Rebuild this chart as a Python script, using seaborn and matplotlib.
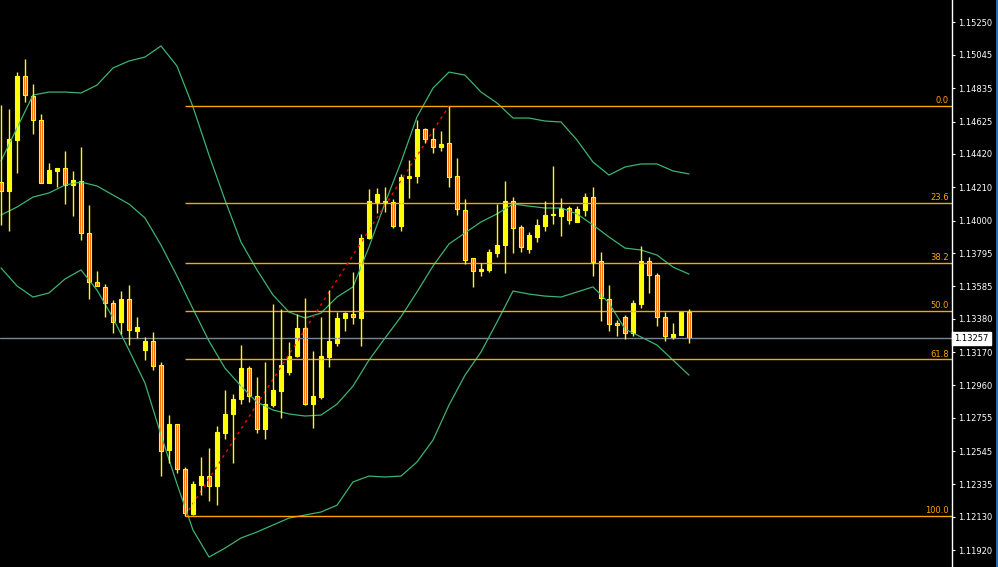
import numpy as np
import pandas as pd
import seaborn as sns
import matplotlib.pyplot as plt

# velas OHLC, de izquierda a derecha
open_ = [1.14245, 1.14188, 1.14510, 1.14912, 1.14784, 1.14632, 1.14239, 1.14314, 1.14330, 1.14222,
         1.14247, 1.13919, 1.13610, 1.13578, 1.13477, 1.13361, 1.13504, 1.13305, 1.13182, 1.13239,
         1.13088, 1.12551, 1.12715, 1.12433, 1.12145, 1.12331, 1.12387, 1.12325, 1.12661, 1.12779,
         1.12871, 1.13068, 1.12890, 1.12684, 1.12835, 1.12921, 1.13045, 1.13145, 1.13320, 1.12841,
         1.12888, 1.13141, 1.13230, 1.13386, 1.13408, 1.13386, 1.13888, 1.14119, 1.14123, 1.14115,
         1.13967, 1.14270, 1.14279, 1.14578, 1.14515, 1.14466, 1.14490, 1.14281, 1.14067, 1.13761,
         1.13683, 1.13688, 1.13797, 1.13843, 1.14123, 1.13957, 1.13818, 1.13898, 1.13967, 1.14039,
         1.14030, 1.14077, 1.13992, 1.14069, 1.14148, 1.13744, 1.13504, 1.13351, 1.13389, 1.13290,
         1.13472, 1.13744, 1.13656, 1.13393, 1.13259, 1.13275, 1.13424]
high = [1.14729, 1.14704, 1.14939, 1.15019, 1.14862, 1.14672, 1.14363, 1.14330, 1.14439, 1.14313,
        1.14464, 1.14098, 1.13681, 1.13597, 1.13498, 1.13555, 1.13592, 1.13389, 1.13267, 1.13298,
        1.13105, 1.12772, 1.12715, 1.12444, 1.12356, 1.12508, 1.12564, 1.12703, 1.12931, 1.12905,
        1.13214, 1.13081, 1.13010, 1.13105, 1.13472, 1.13439, 1.13234, 1.13412, 1.13509, 1.13176,
        1.13393, 1.13559, 1.13422, 1.13422, 1.13675, 1.13915, 1.14199, 1.14205, 1.14210, 1.14136,
        1.14294, 1.14382, 1.14634, 1.14584, 1.14582, 1.14565, 1.14723, 1.14393, 1.14136, 1.13761,
        1.13734, 1.13818, 1.14104, 1.14250, 1.14148, 1.13970, 1.13928, 1.14010, 1.14123, 1.14344,
        1.14140, 1.14091, 1.14091, 1.14172, 1.14213, 1.13801, 1.13592, 1.13372, 1.13403, 1.13498,
        1.13839, 1.13772, 1.13670, 1.13424, 1.13351, 1.13424, 1.13442]
low = [1.13972, 1.13936, 1.14302, 1.14750, 1.14548, 1.14235, 1.14235, 1.14213, 1.14106, 1.14030,
       1.13875, 1.13502, 1.13585, 1.13393, 1.13288, 1.13282, 1.13214, 1.13256, 1.13119, 1.13058,
       1.12388, 1.12467, 1.12404, 1.12135, 1.12141, 1.12267, 1.12231, 1.12203, 1.12621, 1.12472,
       1.12843, 1.12852, 1.12661, 1.12619, 1.12824, 1.12751, 1.13024, 1.13141, 1.12835, 1.12688,
       1.12871, 1.13077, 1.13205, 1.13305, 1.13346, 1.13205, 1.13881, 1.14045, 1.14055, 1.13955,
       1.13936, 1.14145, 1.14235, 1.14487, 1.14424, 1.14441, 1.14213, 1.14035, 1.13725, 1.13582,
       1.13650, 1.13673, 1.13772, 1.13670, 1.13797, 1.13803, 1.13793, 1.13863, 1.13936, 1.13976,
       1.13904, 1.13980, 1.13992, 1.14030, 1.13650, 1.13367, 1.13305, 1.13272, 1.13250, 1.13272,
       1.13446, 1.13544, 1.13334, 1.13241, 1.13250, 1.13275, 1.13225]
close = [1.14188, 1.14515, 1.14912, 1.14790, 1.14632, 1.14239, 1.14317, 1.14330, 1.14224, 1.14254,
         1.13919, 1.13610, 1.13585, 1.13477, 1.13361, 1.13504, 1.13307, 1.13330, 1.13239, 1.13083,
         1.12546, 1.12715, 1.12433, 1.12155, 1.12337, 1.12387, 1.12325, 1.12667, 1.12779, 1.12873,
         1.13068, 1.12890, 1.12684, 1.12841, 1.12931, 1.13086, 1.13145, 1.13320, 1.12841, 1.12892,
         1.13145, 1.13239, 1.13383, 1.13414, 1.13393, 1.13888, 1.14123, 1.14165, 1.14117, 1.13967,
         1.14273, 1.14282, 1.14578, 1.14516, 1.14466, 1.14485, 1.14276, 1.14071, 1.13751, 1.13683,
         1.13694, 1.13801, 1.13845, 1.14123, 1.13955, 1.13831, 1.13908, 1.13970, 1.14035, 1.14033,
         1.14077, 1.14001, 1.14071, 1.14148, 1.13740, 1.13509, 1.13345, 1.13342, 1.13290, 1.13477,
         1.13744, 1.13653, 1.13389, 1.13272, 1.13282, 1.13424, 1.13257]

# bandas de Bollinger, leidas cada 2 velas
band_idx = list(range(0, 87, 2))
band_upper = [1.14376, 1.14584, 1.14792, 1.14811, 1.14811, 1.14805, 1.14855, 1.14963, 1.15007, 1.15032,
              1.15102, 1.14975, 1.14717, 1.14413, 1.14129, 1.13864, 1.13688, 1.13530, 1.13422, 1.13385,
              1.13416, 1.13517, 1.13581, 1.13833, 1.14110, 1.14369, 1.14654, 1.14836, 1.14937, 1.14918,
              1.14811, 1.14742, 1.14647, 1.14647, 1.14628, 1.14622, 1.14508, 1.14369, 1.14287, 1.14338,
              1.14357, 1.14357, 1.14313, 1.14294]
band_mid = [1.14035, 1.14085, 1.14148, 1.14174, 1.14224, 1.14243, 1.14218, 1.14161, 1.14104, 1.14016,
            1.13845, 1.13650, 1.13442, 1.13239, 1.13068, 1.12955, 1.12854, 1.12804, 1.12779, 1.12766,
            1.12772, 1.12841, 1.12955, 1.13119, 1.13258, 1.13393, 1.13549, 1.13713, 1.13852, 1.13922,
            1.13991, 1.14042, 1.14104, 1.14091, 1.14079, 1.14079, 1.14042, 1.13972, 1.13896, 1.13826,
            1.13814, 1.13782, 1.13706, 1.13662]
band_lower = [1.13701, 1.13587, 1.13517, 1.13543, 1.13631, 1.13688, 1.13561, 1.13385, 1.13182, 1.12974,
              1.12646, 1.12337, 1.12046, 1.11876, 1.11932, 1.11996, 1.12034, 1.12078, 1.12122, 1.12141,
              1.12160, 1.12203, 1.12350, 1.12387, 1.12381, 1.12387, 1.12476, 1.12614, 1.12835, 1.13024,
              1.13170, 1.13359, 1.13555, 1.13536, 1.13523, 1.13517, 1.13549, 1.13581, 1.13479, 1.13315,
              1.13265, 1.13214, 1.13119, 1.13024]

# retroceso de Fibonacci
fib_low = 1.12135
fib_high = 1.14723
fib_start = 23
fib_end = 56
fib_ratios = [0.0, 23.6, 38.2, 50.0, 61.8, 100.0]

last_price = 1.13257
price_ticks = [1.15250, 1.15045, 1.14835, 1.14625, 1.14420, 1.14210, 1.14000, 1.13795, 1.13585,
               1.13380, 1.13170, 1.12960, 1.12755, 1.12545, 1.12335, 1.12130, 1.11920]

sns.set_theme(style="dark", rc={"axes.facecolor": "black", "figure.facecolor": "black"})

fig = plt.figure(figsize=(9.98, 5.67), dpi=100)
ax = fig.add_axes([0, 0, 951.5 / 998, 1])

df = pd.DataFrame({"x": np.arange(len(close)), "open": open_, "high": high,
                   "low": low, "close": close})
sube = df["close"] >= df["open"]

bands = pd.DataFrame({"x": band_idx, "upper": band_upper, "mid": band_mid, "lower": band_lower})
for col in ["upper", "mid", "lower"]:
    sns.lineplot(data=bands, x="x", y=col, ax=ax, color="#3CB371", linewidth=0.9)

# linea del precio actual
ax.axhline(last_price, color="#778899", linewidth=1)

# niveles de Fibonacci
xmax = (951.5 - 1) / 8
niveles = [fib_high - r / 100 * (fib_high - fib_low) for r in fib_ratios]
ax.hlines(niveles, fib_start, xmax, color="#FFA500", linewidth=1)
for r, v in zip(fib_ratios, niveles):
    ax.text(xmax - 0.3, v + 0.00004, f"{r:.1f}", color="#FFA500", fontsize=6,
            ha="right", va="bottom")
ax.plot([fib_start, fib_end], [fib_low, fib_high], color="red", linewidth=1,
        linestyle=(0, (2, 3)))

# velas
ax.vlines(df["x"], df["low"], df["high"], color="yellow", linewidth=1)
ax.bar(df["x"], df["close"] - df["open"], bottom=df["open"], width=0.55,
       color=np.where(sube, "yellow", "#FF4500"), edgecolor="yellow", linewidth=0.8)

ax.set_xlim(-0.125, xmax)
ax.set_ylim(1.11813, 1.15392)
ax.grid(False)
ax.set_xlabel("")
ax.set_ylabel("")
ax.set_xticks([])

# eje de precios a la derecha
ax.yaxis.tick_right()
ax.set_yticks(price_ticks)
ax.set_yticklabels([f"{v:.5f}" for v in price_ticks])
ax.tick_params(axis="y", colors="white", labelsize=6, length=2.5, width=0.8, pad=2, right=True)
for s in ["top", "left", "bottom"]:
    ax.spines[s].set_visible(False)
ax.spines["right"].set_color("white")
ax.spines["right"].set_linewidth(1)

ax.annotate(f"{last_price:.5f}", xy=(1, last_price), xycoords=("axes fraction", "data"),
            xytext=(2, 0), textcoords="offset points", ha="left", va="center",
            fontsize=6, color="black",
            bbox=dict(boxstyle="square,pad=0.25", fc="white", ec="white"))

fig.add_artist(plt.Line2D([0.9985, 0.9985], [0, 1], transform=fig.transFigure,
                          color="#3C7FD0", linewidth=1.2))

plt.savefig("out.png", dpi=100, facecolor="black")
